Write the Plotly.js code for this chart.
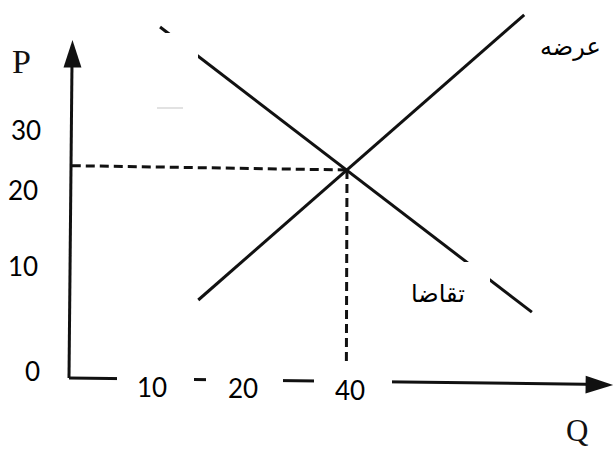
<!DOCTYPE html>
<html>
<head>
<meta charset="utf-8">
<script src="https://cdn.plot.ly/plotly-3.0.1.min.js"></script>
<style>
  html, body { margin: 0; padding: 0; background: #fff; }
  #plotly-graph { width: 615px; height: 450px; }
</style>
</head>
<body>
<div id="plotly-graph"></div>
<script>
// curves (Q, P)
var demandQ = [13.1, 40, 66.6];
var demandP = [40.5, 24, 7.6];
var supplyQ = [18.6, 40, 65.5];
var supplyP = [9.0, 24, 41.9];

// equilibrium and its guide lines
var eqQ = 40, eqP = 24;
var guideHQ = [0.4, eqQ], guideHP = [24.5, eqP];
var guideVQ = [eqQ, 39.9], guideVP = [eqP, -0.6];

// axes (the scan is a little tilted)
var axisYQ = [0, 0.45], axisYP = [0, 38.0];
var axisXQ = [0, 77.0], axisXP = [0, -0.75];
var tipQ = [0.5, 78.3], tipP = [39.0, -0.8];

// tick labels and where they sit
var qTickText = ['10', '20', '40'];
var qTickQ = [11.9, 25.0, 40.4];
var qTickP = [-1.05, -1.15, -1.4];
var pTickText = ['0', '10', '20', '30'];
var pTickQ = [-5.2, -6.6, -6.6, -6.2];
var pTickP = [0.8, 12.9, 21.7, 28.6];

var supplyLabel = 'عرضه';
var demandLabel = 'تقاضا';

// pixel -> data helpers for decoration only
var kx = 6.95, ky = 8.667;
function qx(px) { return (px - 69) / kx; }
function py(pyv) { return (378 - pyv) / ky; }

var ink = '#111';

var traces = [
    { x: demandQ, y: demandP, mode: 'lines', line: { color: ink, width: 3 } },
    { x: supplyQ, y: supplyP, mode: 'lines', line: { color: ink, width: 3 } },
    { x: guideHQ, y: guideHP, mode: 'lines', line: { color: ink, width: 3, dash: '9px,5px' } },
    { x: guideVQ, y: guideVP, mode: 'lines', line: { color: ink, width: 3, dash: '9px,5px' } },
    { x: axisYQ, y: axisYP, mode: 'lines', line: { color: ink, width: 3 } },
    { x: axisXQ, y: axisXP, mode: 'lines', line: { color: ink, width: 3 } },
    {
        x: tipQ, y: tipP, mode: 'markers',
        marker: { symbol: 'arrow', size: 29, angle: [0, 90.7], color: ink, line: { width: 0 } }
    }
];

var shapes = [
    // white patches from the scan
    { type: 'rect', xref: 'x', yref: 'y', x0: qx(155), x1: qx(198), y0: py(108), y1: py(33),
      fillcolor: '#fff', line: { width: 0 }, layer: 'above' },
    { type: 'line', xref: 'x', yref: 'y', x0: qx(157), x1: qx(183), y0: py(108), y1: py(108),
      line: { color: '#d8d8d8', width: 1.5 }, layer: 'above' },
    { type: 'rect', xref: 'x', yref: 'y', x0: qx(400), x1: qx(490), y0: py(322), y1: py(262),
      fillcolor: '#fff', line: { width: 0 }, layer: 'above' }
];
// label boxes that break the Q axis
var boxL = [117, 206, 314], boxR = [194, 283, 392];
for (var i = 0; i < boxL.length; i++) {
    shapes.push({ type: 'rect', xref: 'x', yref: 'y', x0: qx(boxL[i]), x1: qx(boxR[i]),
        y0: py(418), y1: py(362), fillcolor: '#fff', line: { width: 0 }, layer: 'above' });
}

var numFont = { family: 'Lato, "Open Sans", sans-serif', size: 26, color: '#000' };
var annotations = [];
qTickText.forEach(function (t, i) {
    annotations.push({ x: qTickQ[i], y: qTickP[i], text: t, showarrow: false, font: numFont });
});
pTickText.forEach(function (t, i) {
    annotations.push({ x: pTickQ[i], y: pTickP[i], text: t, showarrow: false, font: numFont });
});
annotations.push(
    { x: qx(21), y: py(61), text: 'P', showarrow: false,
      font: { family: '"Liberation Serif", serif', size: 34, color: '#111' } },
    { x: qx(577), y: py(430), text: 'Q', showarrow: false,
      font: { family: '"Liberation Serif", serif', size: 31, color: '#111' } },
    { x: qx(570), y: py(47), text: supplyLabel, showarrow: false,
      font: { family: '"DejaVu Sans", sans-serif', size: 24, color: '#000' } },
    { x: qx(438), y: py(294), text: demandLabel, showarrow: false,
      font: { family: '"DejaVu Sans", sans-serif', size: 24, color: '#000' } }
);

var layout = {
    width: 615,
    height: 450,
    margin: { l: 0, r: 0, t: 0, b: 0 },
    paper_bgcolor: '#fff',
    plot_bgcolor: '#fff',
    showlegend: false,
    dragmode: false,
    xaxis: { range: [qx(0), qx(615)], visible: false, fixedrange: true },
    yaxis: { range: [py(450), py(0)], visible: false, fixedrange: true },
    shapes: shapes,
    annotations: annotations
};

Plotly.newPlot('plotly-graph', traces, layout, { staticPlot: true });
</script>
</body>
</html>
